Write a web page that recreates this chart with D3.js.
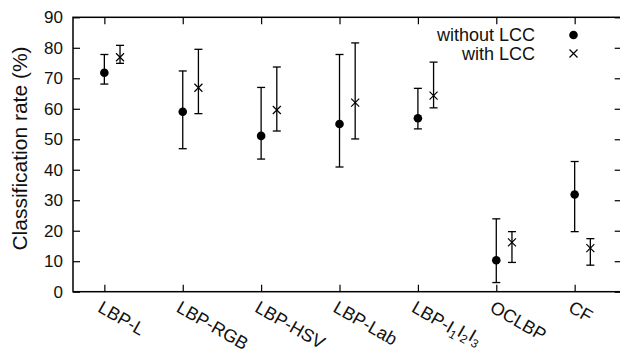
<!DOCTYPE html>
<html>
<head>
<meta charset="utf-8">
<script src="https://cdn.jsdelivr.net/npm/d3@7"></script>
<style>
body { margin:0; background:#fff; }
svg { font-family: "Liberation Sans", Arial, sans-serif; }
</style>
</head>
<body>
<script>
"use strict";

// data
const categories = ["LBP-L", "LBP-RGB", "LBP-HSV", "LBP-Lab", "LBP-I1I2I3", "OCLBP", "CF"];
const withoutLCC   = [71.8, 59.0, 51.1, 55.0, 56.9, 10.3, 31.9];
const withoutLow   = [68.1, 46.9, 43.5, 40.9, 53.4,  3.0, 19.7];
const withoutHigh  = [77.8, 72.4, 67.0, 77.8, 66.7, 23.9, 42.7];
const withLCC      = [76.9, 66.9, 59.6, 62.0, 64.3, 16.2, 14.3];
const withLow      = [74.9, 58.4, 52.7, 50.1, 60.3,  9.6,  8.7];
const withHigh     = [80.8, 79.5, 73.7, 81.6, 75.3, 19.7, 17.4];
const yTicks = [0, 10, 20, 30, 40, 50, 60, 70, 80, 90];

const W = 620, H = 349;
const box = { left: 73, right: 621.7, top: 17.3, bottom: 291.7 };

const svg = d3.select("body").append("svg")
    .attr("width", W)
    .attr("height", H);

const x = d3.scaleLinear().domain([-0.4, 6.6]).range([box.left, box.right]);
const y = d3.scaleLinear().domain([0, 90]).range([box.bottom, box.top]);
const shift = 0.2; // with-LCC points sit a bit right of the tick

const idx = categories.map((d, i) => i);

// frame
svg.append("rect")
    .attr("x", box.left).attr("y", box.top)
    .attr("width", box.right - box.left).attr("height", box.bottom - box.top)
    .attr("fill", "none").attr("stroke", "#000").attr("stroke-width", 1.5);

const styleAxis = (g) => {
    g.select(".domain").remove();
    g.selectAll(".tick line").attr("stroke", "#000").attr("stroke-width", 1.2);
    g.selectAll(".tick text").attr("fill", "#111").style("font-size", "17px");
};

svg.append("g")
    .attr("transform", "translate(" + box.left + ",0)")
    .call(d3.axisLeft(y).tickValues(yTicks).tickSize(-7).tickPadding(10))
    .call(styleAxis);

svg.append("g")
    .attr("transform", "translate(" + box.right + ",0)")
    .call(d3.axisRight(y).tickValues(yTicks).tickSize(-7).tickFormat(""))
    .call(styleAxis);

svg.append("g")
    .attr("transform", "translate(0," + box.top + ")")
    .call(d3.axisTop(x).tickValues(idx).tickSize(-7).tickFormat(""))
    .call(styleAxis);

svg.append("g")
    .attr("transform", "translate(0," + box.bottom + ")")
    .call(d3.axisBottom(x).tickValues(idx).tickSize(-7).tickFormat(""))
    .call(styleAxis);

// rotated category labels (the long ones run off the bottom, as in the original)
const lab = svg.append("g").selectAll("text")
    .data(categories)
    .enter()
    .append("text")
    .attr("transform", (d, i) => "translate(" + (x(i) - 1) + "," + (box.bottom + 8) + ") rotate(30)")
    .attr("dy", "0.72em")
    .attr("text-anchor", "start")
    .attr("fill", "#111")
    .style("font-size", "18px");

lab.each(function (d) {
    const t = d3.select(this);
    const m = d.match(/^(LBP-)I1I2I3$/);
    if (!m) { t.text(d); return; }
    t.append("tspan").text(m[1]);
    [1, 2, 3].forEach((n) => {
        t.append("tspan").text("I");
        t.append("tspan").attr("dy", "0.3em").style("font-size", "12px").text(n);
        t.append("tspan").attr("dy", "-0.3em").text("\u200b");
    });
});

// y axis title
svg.append("text")
    .attr("transform", "translate(27," + ((box.top + box.bottom) / 2 - 6) + ") rotate(-90)")
    .attr("text-anchor", "middle")
    .attr("fill", "#111")
    .style("font-size", "21px")
    .text("Classification rate (%)");

// error bars
const drawBars = (vals, lo, hi, off) => {
    const g = svg.append("g").attr("stroke", "#000").attr("stroke-width", 1.3);
    idx.forEach((i) => {
        const cx = x(i + off);
        g.append("line").attr("x1", cx).attr("x2", cx).attr("y1", y(lo[i])).attr("y2", y(hi[i]));
        [lo[i], hi[i]].forEach((v) => {
            g.append("line").attr("x1", cx - 4).attr("x2", cx + 4).attr("y1", y(v)).attr("y2", y(v));
        });
    });
};
drawBars(withoutLCC, withoutLow, withoutHigh, 0);
drawBars(withLCC, withLow, withHigh, shift);

const cross = (g, cx, cy) => {
    g.append("path")
        .attr("d", "M" + (cx - 4) + "," + (cy - 4) + "L" + (cx + 4) + "," + (cy + 4) +
              "M" + (cx - 4) + "," + (cy + 4) + "L" + (cx + 4) + "," + (cy - 4))
        .attr("stroke", "#000").attr("stroke-width", 1.2).attr("fill", "none");
};

svg.append("g").selectAll("circle")
    .data(withoutLCC)
    .enter()
    .append("circle")
    .attr("cx", (d, i) => x(i))
    .attr("cy", (d) => y(d))
    .attr("r", 4.3)
    .attr("fill", "#000");

const gx = svg.append("g");
withLCC.forEach((d, i) => cross(gx, x(i + shift), y(d)));

// legend
const leg = svg.append("g");
leg.append("text").attr("x", 535).attr("y", 35).attr("dy", "0.35em")
    .attr("text-anchor", "end").attr("fill", "#111").style("font-size", "18px")
    .text("without LCC");
leg.append("text").attr("x", 535).attr("y", 53.5).attr("dy", "0.35em")
    .attr("text-anchor", "end").attr("fill", "#111").style("font-size", "18px")
    .text("with LCC");
leg.append("circle").attr("cx", 573.5).attr("cy", 35).attr("r", 4.3).attr("fill", "#000");
cross(leg, 573.5, 53.5);
</script>
</body>
</html>
